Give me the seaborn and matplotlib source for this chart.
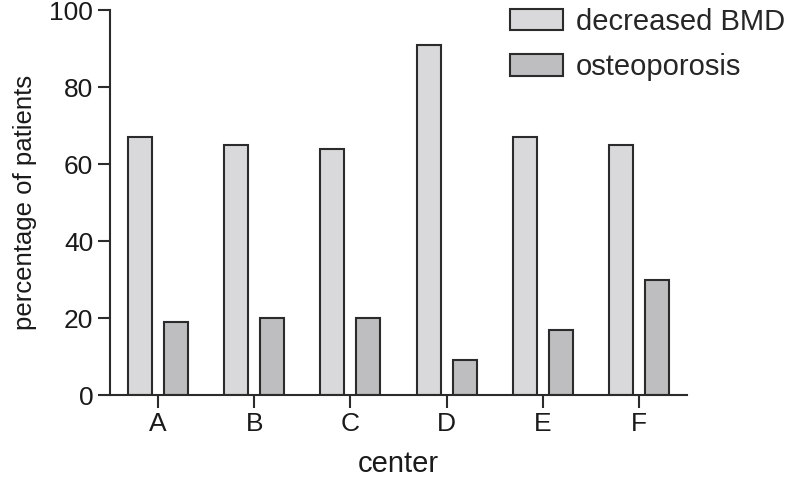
import matplotlib
matplotlib.use("Agg")
import matplotlib.pyplot as plt
import seaborn as sns
import pandas as pd

# values
centers = ['A', 'B', 'C', 'D', 'E', 'F']
decreased_bmd = [67, 65, 64, 91, 67, 65]
osteoporosis = [19, 20, 20, 9, 17, 30]
series_names = ['decreased BMD', 'osteoporosis']

df = pd.DataFrame({
    'center': centers * 2,
    'value': decreased_bmd + osteoporosis,
    'group': [series_names[0]] * len(centers) + [series_names[1]] * len(centers),
})

sns.set_style("ticks")
plt.rcParams['font.family'] = ['Liberation Sans', 'DejaVu Sans']

fig = plt.figure(figsize=(8, 4.78), dpi=100)
ax = fig.add_axes([0.1375, 0.1736, 0.7213, 0.8054])

sns.barplot(data=df, x='center', y='value', hue='group',
            palette=['#d9d9db', '#bdbdc1'], edgecolor='#2b2b2b', linewidth=1.5,
            width=0.75, gap=1/3, ax=ax)

ax.set_xlim(-0.5, 5.5)
ax.set_ylim(0, 100)
ax.set_yticks([0, 20, 40, 60, 80, 100])
ax.spines['top'].set_visible(False)
ax.spines['right'].set_visible(False)
for s in ['left', 'bottom']:
    ax.spines[s].set_linewidth(1.5)
    ax.spines[s].set_color('#2b2b2b')
ax.tick_params(axis='both', length=9, width=1.5, color='#2b2b2b', pad=3,
               labelsize=19, labelcolor='#1a1a1a')

ax.set_xlabel('center', fontsize=21, labelpad=10, color='#1a1a1a')
ax.set_ylabel('percentage of patients', fontsize=18.5, labelpad=9, color='#1a1a1a')

handles, labels = ax.get_legend_handles_labels()
ax.legend(handles, labels, loc='upper left', bbox_to_anchor=(0.6375, 0.984),
          bbox_transform=fig.transFigure, frameon=False, fontsize=21,
          handlelength=1.8, handleheight=0.75, handletextpad=0.45,
          labelspacing=0.6, borderaxespad=0, borderpad=0)

fig.savefig('out.png', dpi=100)
